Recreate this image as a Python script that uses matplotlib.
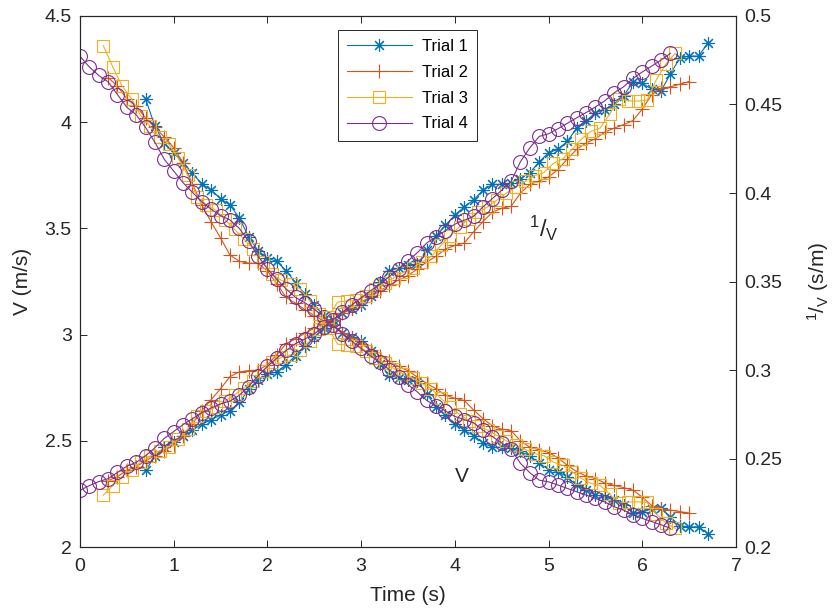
import numpy as np
import matplotlib
matplotlib.use("Agg")
import matplotlib.pyplot as plt

# Datos: velocidad medida en cada ensayo (muestreo cada 0.1 s)
dt = 0.1
trial_names = ["Trial 1", "Trial 2", "Trial 3", "Trial 4"]
t0_trials = [0.7, 0.3, 0.25, 0.0]

v_trial1 = [4.11, 3.98, 3.90, 3.855, 3.81, 3.76, 3.71, 3.68, 3.64, 3.61,
            3.55, 3.46, 3.395, 3.36, 3.345, 3.30, 3.245, 3.19, 3.14, 3.09,
            3.045, 3.01, 2.99, 2.97, 2.925, 2.86, 2.81, 2.795, 2.785, 2.78,
            2.72, 2.66, 2.62, 2.58, 2.55, 2.525, 2.49, 2.47, 2.47, 2.465,
            2.45, 2.43, 2.395, 2.365, 2.355, 2.33, 2.29, 2.27, 2.245, 2.237,
            2.22, 2.20, 2.16, 2.165, 2.18, 2.185, 2.14, 2.10, 2.095, 2.095,
            2.063]
v_trial2 = [4.21, 4.17, 4.11, 4.075, 4.02, 3.975, 3.93, 3.88, 3.81, 3.71,
            3.61, 3.53, 3.455, 3.375, 3.345, 3.337, 3.335, 3.30, 3.24, 3.175,
            3.148, 3.118, 3.09, 3.065, 3.045, 3.01, 2.985, 2.955, 2.93, 2.90,
            2.875, 2.85, 2.83, 2.80, 2.77, 2.745, 2.715, 2.70, 2.69, 2.645,
            2.605, 2.57, 2.555, 2.548, 2.50, 2.47, 2.458, 2.445, 2.42, 2.385,
            2.355, 2.335, 2.322, 2.302, 2.29, 2.28, 2.268, 2.235, 2.195, 2.178,
            2.174, 2.167, 2.16]
v_trial3 = [4.36, 4.26, 4.17, 4.11, 4.03, 3.98, 3.93, 3.895, 3.83, 3.75,
            3.65, 3.61, 3.585, 3.54, 3.495, 3.45, 3.405, 3.34, 3.285, 3.255,
            3.24, 3.215, 3.16, 3.095, 3.03, 2.955, 2.95, 2.945, 2.925, 2.89,
            2.865, 2.84, 2.815, 2.795, 2.77, 2.745, 2.70, 2.66, 2.625, 2.595,
            2.57, 2.55, 2.525, 2.50, 2.48, 2.46, 2.44, 2.43, 2.40, 2.385,
            2.355, 2.323, 2.30, 2.29, 2.25, 2.207, 2.212, 2.213, 2.21, 2.155,
            2.115, 2.088]
v_trial4 = [4.31, 4.26, 4.22, 4.19, 4.13, 4.07, 4.035, 3.975, 3.905, 3.825,
            3.77, 3.715, 3.67, 3.625, 3.59, 3.56, 3.54, 3.50, 3.44, 3.37,
            3.31, 3.26, 3.215, 3.175, 3.15, 3.12, 3.085, 3.045, 3.005, 2.97,
            2.935, 2.90, 2.87, 2.835, 2.80, 2.765, 2.73, 2.69, 2.665, 2.64,
            2.615, 2.60, 2.585, 2.55, 2.52, 2.49, 2.46, 2.394, 2.35, 2.315,
            2.307, 2.292, 2.276, 2.26, 2.245, 2.229, 2.212, 2.19, 2.174, 2.152,
            2.135, 2.12, 2.105, 2.088]
v_trials = [v_trial1, v_trial2, v_trial3, v_trial4]

x_ticks = [0, 1, 2, 3, 4, 5, 6, 7]
v_ticks = [2, 2.5, 3, 3.5, 4, 4.5]
inv_ticks = [0.2, 0.25, 0.3, 0.35, 0.4, 0.45, 0.5]

# Estilo tipo MATLAB
colors = ["#0072BD", "#D95319", "#EDB120", "#7E2F8E"]
markers = [(8, 2, 0), "+", "s", "o"]
msizes = [9, 10, 8, 10]
axis_color = "#262626"

plt.rcParams["font.family"] = ["Liberation Sans", "DejaVu Sans"]
plt.rcParams["mathtext.fontset"] = "custom"
plt.rcParams["mathtext.rm"] = "Liberation Sans"
plt.rcParams["mathtext.it"] = "Liberation Sans"

fig = plt.figure(figsize=(8.33, 6.14), dpi=100)
ax = fig.add_axes([0.096, 0.109, 0.7876, 0.865])
ax2 = ax.twinx()

for name, t0, v, c, m, ms in zip(trial_names, t0_trials, v_trials,
                                 colors, markers, msizes):
    v = np.array(v)
    t = t0 + dt * np.arange(len(v))
    ax.plot(t, v, color=c, marker=m, ms=ms, mfc="none", mew=0.8,
            lw=0.8, label=name)
    ax2.plot(t, 1.0 / v, color=c, marker=m, ms=ms, mfc="none", mew=0.8,
             lw=0.8)

ax.set_xlim(0, 7)
ax.set_ylim(2, 4.5)
ax2.set_ylim(0.2, 0.5)
ax.set_xticks(x_ticks)
ax.set_yticks(v_ticks)
ax.set_yticklabels([f"{v:g}" for v in v_ticks])
ax2.set_yticks(inv_ticks)
ax2.set_yticklabels([f"{v:g}" for v in inv_ticks])

ax.tick_params(axis="x", direction="in", top=True, length=5, width=0.7,
               labelsize=14, colors=axis_color, pad=8)
ax.tick_params(axis="y", direction="in", length=5, width=0.7,
               labelsize=14, colors=axis_color, pad=6)
ax2.tick_params(axis="y", direction="in", length=5, width=0.7,
                labelsize=14, colors=axis_color, pad=6)
for a in (ax, ax2):
    for s in a.spines.values():
        s.set_color(axis_color)
        s.set_linewidth(0.8)

ax.set_xlabel("Time (s)", fontsize=15, color=axis_color, labelpad=8)
ax.set_ylabel("V (m/s)", fontsize=15, color=axis_color, labelpad=9)
ax2.set_ylabel(r"$^{1}/_{\mathrm{V}}$ (s/m)", fontsize=15,
               color=axis_color, labelpad=16)

# Etiquetas de las curvas
ax.text(4.95, 3.50, r"$^{1}/_{\mathrm{V}}$", fontsize=17,
        color=axis_color, ha="center", va="center")
ax.text(4.07, 2.33, "V", fontsize=15, color=axis_color,
        ha="center", va="center")

leg = ax.legend(loc="upper left", bbox_to_anchor=(0.393, 0.974),
                borderaxespad=0, fontsize=12, handlelength=3.9,
                fancybox=False, framealpha=1, edgecolor=axis_color,
                labelspacing=0.65, borderpad=0.55, handletextpad=0.6)
leg.get_frame().set_linewidth(0.7)

fig.savefig("out.png", dpi=100)
